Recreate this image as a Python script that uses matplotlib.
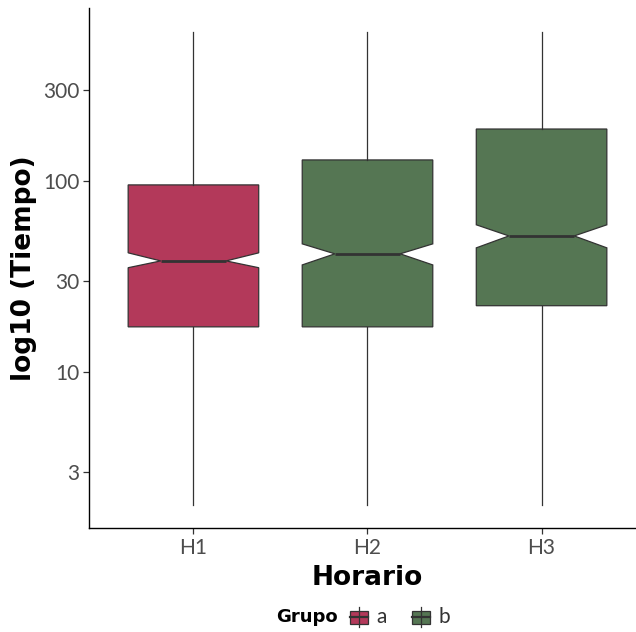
import matplotlib
matplotlib.use("Agg")
import matplotlib.pyplot as plt
from matplotlib.patches import Rectangle
from matplotlib.lines import Line2D

plt.rcParams['font.family'] = ['Lato', 'DejaVu Sans']

# values (log10 axis)
horarios = ['H1', 'H2', 'H3']
grupos = ['a', 'b', 'b']
q1 = [17.2, 17.2, 22.2]
med = [38.1, 41.5, 51.5]
q3 = [95.3, 128.8, 187.0]
whislo = [2.0, 2.0, 2.0]
whishi = [603, 603, 603]
notch_lo = [35.1, 36.3, 44.6]
notch_hi = [42.0, 46.8, 58.9]

colores = {'a': '#B3395A', 'b': '#557653'}
edge = '#333333'

W, H = 636, 632
fig = plt.figure(figsize=(W / 100, H / 100), dpi=100)
ax = fig.add_axes([89 / W, 104 / H, 557 / W, 520 / H])

stats = []
for i, h in enumerate(horarios):
    stats.append(dict(label=h, med=med[i], q1=q1[i], q3=q3[i],
                      whislo=whislo[i], whishi=whishi[i],
                      cilo=notch_lo[i], cihi=notch_hi[i], fliers=[]))

bp = ax.bxp(stats, positions=[1, 2, 3], widths=0.75, shownotches=True,
            patch_artist=True, showcaps=False, showfliers=False,
            boxprops=dict(edgecolor=edge, linewidth=0.9),
            whiskerprops=dict(color=edge, linewidth=0.9),
            medianprops=dict(color=edge, linewidth=2.0))
for patch, g in zip(bp['boxes'], grupos):
    patch.set_facecolor(colores[g])

ax.set_yscale('log')
ax.set_ylim(1.52, 805)
ax.set_xlim(0.4, 3.6)
yt = [3, 10, 30, 100, 300]
ax.set_yticks(yt)
ax.set_yticklabels([str(v) for v in yt])
ax.minorticks_off()
ax.set_xticks([1, 2, 3])
ax.set_xticklabels(horarios)

for s in ['top', 'right']:
    ax.spines[s].set_visible(False)
for s in ['left', 'bottom']:
    ax.spines[s].set_color('black')
    ax.spines[s].set_linewidth(1.0)
ax.tick_params(axis='both', length=4, color='#333333', width=0.9,
               labelsize=15, labelcolor='#4D4D4D', pad=3)

ax.set_xlabel('Horario', fontsize=19, fontweight='bold', labelpad=5,
              family='DejaVu Sans')
ax.set_ylabel('log10 (Tiempo)', fontsize=19, fontweight='bold', labelpad=4,
              family='DejaVu Sans')

# legend at the bottom, drawn by hand: title then the two keys
ly = 1 - 617 / H
fig.text(276 / W, ly, 'Grupo', fontsize=13, fontweight='bold',
         family='DejaVu Sans', va='center', ha='left', color='black')
key_x = [350, 412]
for kx, g in zip(key_x, ['a', 'b']):
    x0, x1 = kx / W, (kx + 18) / W
    cx = (kx + 9) / W
    fig.add_artist(Line2D([cx, cx], [1 - 607 / H, 1 - 627 / H], color=edge,
                          lw=0.9, transform=fig.transFigure))
    fig.add_artist(Rectangle((x0, 1 - 624 / H), 18 / W, 13 / H,
                             facecolor=colores[g], edgecolor=edge, lw=0.9,
                             transform=fig.transFigure))
    fig.add_artist(Line2D([x0, x1], [ly, ly], color=edge, lw=1.6,
                          transform=fig.transFigure))
    fig.text((kx + 26) / W, ly, g, fontsize=15, va='center', ha='left',
             color='#333333')

fig.savefig('out.png', dpi=100)
